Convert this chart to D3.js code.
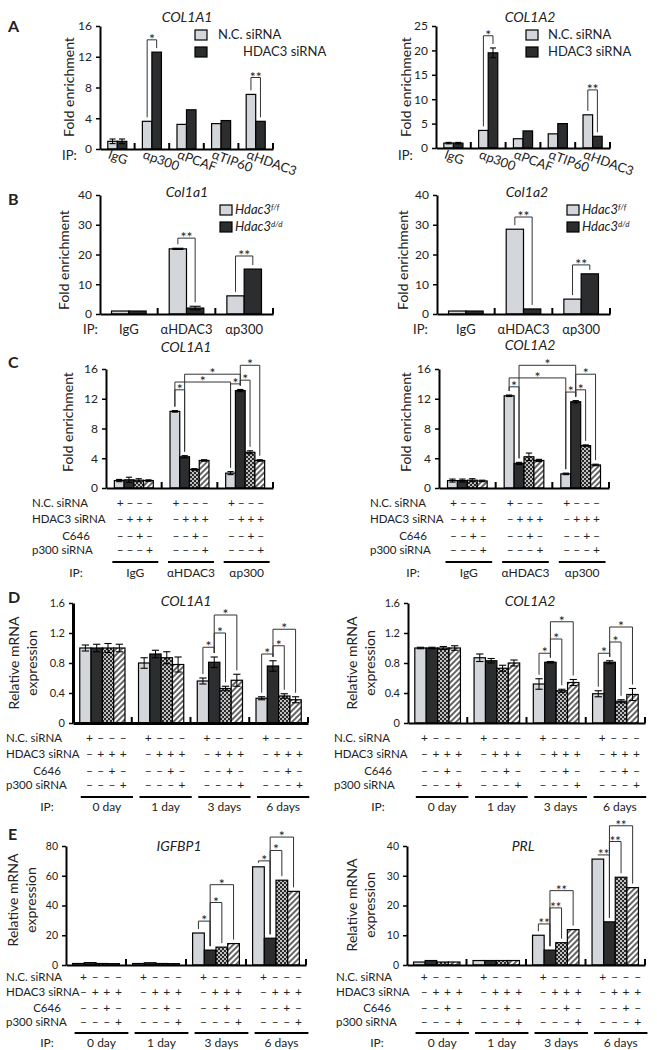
<!DOCTYPE html>
<html><head><meta charset="utf-8">
<script src="https://cdn.jsdelivr.net/npm/d3@7"></script>
<style>
body{margin:0;background:#fff}
svg{display:block}
text{font-family:Lato,"Open Sans",sans-serif;fill:#222}
</style>
</head><body>
<svg id="fig" width="657" height="1050"></svg>
<script>
// ---------------- DATA ----------------
// Panel A
const aCategories = ["IgG","αp300","αPCAF","αTIP60","αHDAC3"];
const aSeries = ["N.C. siRNA","HDAC3 siRNA"];
const aCOL1A1_NC = [1.0,3.6,3.2,3.3,7.1];
const aCOL1A1_HD = [1.0,12.6,5.1,3.7,3.6];
const aCOL1A1_NCerr = [0.3,0,0,0,0];
const aCOL1A1_HDerr = [0.3,0,0,0,0];
const aCOL1A2_NC = [1.0,3.6,1.9,2.9,6.8];
const aCOL1A2_HD = [1.0,19.5,3.5,5.0,2.4];
const aCOL1A2_NCerr = [0.15,0,0,0,0];
const aCOL1A2_HDerr = [0.15,1.0,0,0,0];
const aTicks1 = [0,4,8,12,16];
const aTicks2 = [0,5,10,15,20,25];
// Panel B
const bCategories = ["IgG","αHDAC3","αp300"];
const bSeries = ["f/f","d/d"];
const bCol1a1_FF = [1.0,21.9,6.1];
const bCol1a1_DD = [1.0,2.0,15.1];
const bCol1a1_FFerr = [0,0.2,0];
const bCol1a1_DDerr = [0,0.6,0];
const bCol1a2_FF = [1.0,28.5,5.0];
const bCol1a2_DD = [1.0,1.7,13.5];
const bTicks = [0,10,20,30,40];
// Panel C
const cCategories = ["IgG","αHDAC3","αp300"];
const treatments = ["N.C. siRNA","HDAC3 siRNA","C646","p300 siRNA"];
const treatmentSigns = [["+","–","–","–"],["–","+","+","+"],["–","–","+","–"],["–","–","–","+"]];
const cCOL1A1 = [[1.0,1.1,1.05,1.0],[10.3,4.2,2.5,3.7],[2.0,13.1,4.8,3.7]];
const cCOL1A1err = [[0.15,0.35,0.2,0.1],[0.1,0.15,0.1,0.1],[0.2,0.15,0.2,0.1]];
const cCOL1A2 = [[1.0,1.0,1.05,0.95],[12.4,3.3,4.2,3.7],[1.9,11.6,5.7,3.1]];
const cCOL1A2err = [[0.2,0.2,0.2,0.1],[0.1,0.15,0.5,0.15],[0.1,0.15,0.1,0.1]];
const cTicks = [0,4,8,12,16];
// Panel D
const dCategories = ["0 day","1 day","3 days","6 days"];
const dCOL1A1 = [[1.0,1.0,1.0,1.0],[0.8,0.92,0.87,0.78],[0.56,0.81,0.46,0.57],[0.33,0.76,0.36,0.31]];
const dCOL1A1err = [[0.04,0.05,0.06,0.05],[0.07,0.05,0.08,0.1],[0.04,0.07,0.03,0.08],[0.02,0.07,0.03,0.04]];
const dCOL1A2 = [[1.0,1.0,1.0,1.0],[0.87,0.83,0.73,0.8],[0.52,0.81,0.43,0.54],[0.39,0.81,0.29,0.38]];
const dCOL1A2err = [[0.01,0.01,0.02,0.03],[0.05,0.03,0.04,0.04],[0.07,0.01,0.02,0.04],[0.04,0.02,0.02,0.08]];
const dTicks = [0,0.4,0.8,1.2,1.6];
// Panel E
const eIGFBP1 = [[1.0,1.6,1.0,0.9],[1.0,1.5,1.0,0.9],[21.5,10,12,14.4],[66,18,57,49.5]];
const ePRL = [[1.0,1.5,1.0,1.0],[1.5,1.5,1.5,1.5],[10,5,7.5,11.9],[35.6,14.5,29.5,26]];
const eTicks1 = [0,20,40,60,80];
const eTicks2 = [0,10,20,30,40];
// Significance brackets: [group1, bar1, group2, bar2, level (data units), label]
const sigA1 = [[1,0,1,1,14.2,"*"],[4,0,4,1,9.3,"**"]];
const sigA2 = [[1,0,1,1,23,"*"],[4,0,4,1,11.9,"**"]];
const sigB1 = [[1,0,1,1,25.5,"**"],[2,0,2,1,19.5,"**"]];
const sigB2 = [[1,0,1,1,32.6,"**"],[2,0,2,1,16.5,"**"]];
const sigC1 = [[1,0,1,1,13.2,"*"],[1,0,2,0,14.25,"*"],[1,1,2,1,15.3,"*"],[2,0,2,1,14.0,"*"],[2,1,2,2,14.5,"*"],[2,1,2,3,16.5,"*"]];
const sigC2 = [[1,0,1,1,13.6,"*"],[1,0,2,0,14.8,"*"],[1,1,2,1,16.5,"*"],[2,0,2,1,12.9,"*"],[2,1,2,2,13.2,"*"],[2,1,2,3,15.3,"*"]];
const sigD1 = [[2,0,2,1,1.01,"*"],[2,1,2,2,1.2,"*"],[2,1,2,3,1.44,"*"],[3,0,3,1,0.92,"*"],[3,1,3,2,1.03,"*"],[3,1,3,3,1.25,"*"]];
const sigD2 = [[2,0,2,1,0.93,"*"],[2,1,2,2,1.12,"*"],[2,1,2,3,1.35,"*"],[3,0,3,1,0.93,"*"],[3,1,3,2,1.08,"*"],[3,1,3,3,1.28,"*"]];
const sigE1 = [[2,0,2,1,29.5,"*"],[2,1,2,2,42,"*"],[2,1,2,3,54,"*"],[3,0,3,1,70,"*"],[3,1,3,2,77,"*"],[3,1,3,3,86,"*"]];
const sigE2 = [[2,0,2,1,13.8,"**"],[2,1,2,2,19.2,"**"],[2,1,2,3,25,"**"],[3,0,3,1,37,"**"],[3,1,3,2,41.5,"**"],[3,1,3,3,46.8,"**"]];

// ---------------- DRAWING ----------------
const svg = d3.select("#fig");
const defs = svg.append("defs");
const pc = defs.append("pattern").attr("id","cross").attr("patternUnits","userSpaceOnUse").attr("width",4).attr("height",4);
pc.append("rect").attr("width",4).attr("height",4).attr("fill","#2a2a2a");
pc.append("circle").attr("cx",1).attr("cy",1).attr("r",0.95).attr("fill","#fff");
pc.append("circle").attr("cx",3).attr("cy",3).attr("r",0.95).attr("fill","#fff");
const ph = defs.append("pattern").attr("id","hatch").attr("patternUnits","userSpaceOnUse").attr("width",4).attr("height",4).attr("patternTransform","rotate(45)");
ph.append("rect").attr("width",4).attr("height",4).attr("fill","#fff");
ph.append("line").attr("x1",1).attr("y1",0).attr("x2",1).attr("y2",4).attr("stroke","#111").attr("stroke-width",1.3);
const fills = ["#d3d6da","#2b2d2f","url(#cross)","url(#hatch)"];
const FONT = "Lato";

function panel(o){
  const g = svg.append("g");
  const x = d3.scaleBand().domain(o.categories).range([o.x0,o.x1]);
  const n = o.values[0].length;
  const gw = x.bandwidth()*o.groupFrac;
  const inner = d3.scaleBand().domain(d3.range(n)).range([0,gw]);
  const off = (x.bandwidth()-gw)/2;
  const bw = inner.bandwidth();
  const y = d3.scaleLinear().domain([0,o.max]).range([o.yBot,o.yTop]);
  const bx = (gi,bi)=> x(o.categories[gi]) + off + inner(bi);
  const err = (gi,bi)=> o.errs ? (o.errs[gi][bi]||0) : 0;
  o.values.forEach((vals,gi)=>vals.forEach((v,bi)=>{
    g.append("rect").attr("x",bx(gi,bi)).attr("y",y(v)).attr("width",bw).attr("height",y(0)-y(v))
      .attr("fill",fills[bi]).attr("stroke","#000").attr("stroke-width",1.2);
  }));
  o.values.forEach((vals,gi)=>vals.forEach((v,bi)=>{
    const e = err(gi,bi); if(!e) return;
    const cx = bx(gi,bi)+bw/2, cw = bw*0.32;
    g.append("line").attr("x1",cx).attr("x2",cx).attr("y1",y(v-e)).attr("y2",y(v+e)).attr("stroke","#000").attr("stroke-width",1);
    [v-e,v+e].forEach(t=>g.append("line").attr("x1",cx-cw).attr("x2",cx+cw).attr("y1",y(t)).attr("y2",y(t)).attr("stroke","#000").attr("stroke-width",1.1));
  }));
  const ya = d3.axisLeft(y).tickValues(o.ticks).tickSize(4).tickSizeOuter(0).tickPadding(4)
      .tickFormat(o.fmt || d3.format("d"));
  const yg = g.append("g").attr("transform",`translate(${o.x0},0)`).call(ya);
  yg.select(".domain").attr("stroke","#000").attr("stroke-width",o.aw||2);
  yg.selectAll(".tick line").attr("stroke","#000").attr("stroke-width",1.5);
  yg.selectAll(".tick text").style("font-family",FONT).style("font-size",(o.tfs||12)+"px").attr("fill","#333");
  const xa = d3.axisBottom(x).tickSize(0).tickFormat("");
  const xg = g.append("g").attr("transform",`translate(0,${o.yBot})`).call(xa);
  xg.select(".domain").attr("stroke","#000").attr("stroke-width",o.aw||2);
  o.categories.forEach(c=>{
    const sx = x(c)+x.bandwidth();
    g.append("line").attr("x1",sx).attr("x2",sx).attr("y1",o.yBot).attr("y2",o.yBot-6).attr("stroke","#000").attr("stroke-width",2);
  });
  (o.sig||[]).forEach(s=>{
    const [g1,b1,g2,b2,lev,lab] = s;
    const xa1 = bx(g1,b1)+bw/2, xb1 = bx(g2,b2)+bw/2;
    const yl = y(lev);
    const ya1 = Math.max(yl, y(o.values[g1][b1]+err(g1,b1))-4);
    const yb1 = Math.max(yl, y(o.values[g2][b2]+err(g2,b2))-4);
    g.append("path").attr("d",`M${xa1},${ya1}V${yl}H${xb1}V${yb1}`).attr("fill","none").attr("stroke","#333").attr("stroke-width",1);
    g.append("text").attr("x",(xa1+xb1)/2).attr("y",yl+4).attr("text-anchor","middle").style("font-size",(o.sfs||14)+"px").text(lab);
  });
  g.append("text").attr("x",o.titleX).attr("y",o.titleY).attr("text-anchor","middle").style("font-style","italic").style("font-size","14px").text(o.title);
  const yl = g.append("text").attr("transform",`translate(${o.ylx},${o.yly}) rotate(-90)`).attr("text-anchor","middle").style("font-size","14px");
  if(o.ylabel.length===1){ yl.attr("dominant-baseline","central").text(o.ylabel[0]); }
  else {
    o.ylabel.forEach((t,i)=> yl.append("tspan").attr("x",0).attr("dy", i===0? "-0.2em":"1.3em").text(t));
  }
  return {g,x,bx,bw,off,gw,y};
}

function rotatedLabels(p,o){
  o.categories.forEach(c=>{
    const cx = p.x(c)+p.x.bandwidth()/2-10;
    p.g.append("text").attr("transform",`translate(${cx},${o.labY}) rotate(20)`).style("font-size","13px").text(c);
  });
  p.g.append("text").attr("x",o.ipX).attr("y",o.labY+2).style("font-size","13px").text("IP:");
}
function flatLabels(p,o){
  o.categories.forEach(c=>{
    p.g.append("text").attr("x",p.x(c)+p.x.bandwidth()/2).attr("y",o.labY).attr("text-anchor","middle").style("font-size","13px").text(c);
  });
  p.g.append("text").attr("x",o.ipX).attr("y",o.labY).style("font-size","13px").text("IP:");
}
function legend(p,items,lx,rows,tx,italic){
  items.forEach((it,i)=>{
    p.g.append("rect").attr("x",lx).attr("y",rows[i]).attr("width",12).attr("height",10).attr("fill",fills[i]).attr("stroke","#000").attr("stroke-width",1.2);
    const t = p.g.append("text").attr("x",tx[i]).attr("y",rows[i]+9).style("font-size","13px");
    if(italic){
      t.append("tspan").style("font-style","italic").text("Hdac3");
      t.append("tspan").style("font-style","italic").style("font-size","8px").attr("dy","-4").text(it);
    } else t.text(it);
  });
}
function table(p,o){
  const n = treatmentSigns[0].length;
  treatments.forEach((t,r)=>{
    const isC = t==="C646";
    p.g.append("text").attr("x", isC ? o.lx+o.cOff : o.lx).attr("y",o.rows[r]).attr("text-anchor",isC?"middle":"start").style("font-size","11.5px").text(t);
    o.categories.forEach((c,gi)=>treatmentSigns[r].forEach((s,bi)=>{
      p.g.append("text").attr("x",p.bx(gi,bi)+p.bw/2+o.shift).attr("y",o.rows[r]).attr("text-anchor","middle").style("font-size","12px").text(s);
    }));
  });
  o.categories.forEach((c,gi)=>{
    const xs = p.bx(gi,0)+o.shift-3, xe = p.bx(gi,n-1)+p.bw+o.shift+4;
    p.g.append("line").attr("x1",xs).attr("x2",xe).attr("y1",o.lineY).attr("y2",o.lineY).attr("stroke","#000").attr("stroke-width",2);
    p.g.append("text").attr("x",(xs+xe)/2).attr("y",o.labY).attr("text-anchor","middle").style("font-size","12px").text(c);
  });
  p.g.append("text").attr("x",o.lx+o.cOff).attr("y",o.labY).attr("text-anchor","middle").style("font-size","12px").text("IP:");
}
function letter(t,x,y){ svg.append("text").attr("x",x).attr("y",y).style("font-weight","bold").style("font-size","16px").text(t); }

// Panel A
const pA1 = panel({categories:aCategories,x0:100,x1:273,yTop:26,yBot:149,max:16,ticks:aTicks1,groupFrac:0.55,
  values:d3.zip(aCOL1A1_NC,aCOL1A1_HD),errs:d3.zip(aCOL1A1_NCerr,aCOL1A1_HDerr),sig:sigA1,
  title:"COL1A1",titleX:187,titleY:22,ylabel:["Fold enrichment"],ylx:68,yly:87});
rotatedLabels(pA1,{categories:aCategories,labY:158,ipX:62});
legend(pA1,aSeries,195,[30,47],[218,243],false);
const pA2 = panel({categories:aCategories,x0:436,x1:610,yTop:26,yBot:148,max:25,ticks:aTicks2,groupFrac:0.55,
  values:d3.zip(aCOL1A2_NC,aCOL1A2_HD),errs:d3.zip(aCOL1A2_NCerr,aCOL1A2_HDerr),sig:sigA2,
  title:"COL1A2",titleX:530,titleY:22,ylabel:["Fold enrichment"],ylx:405,yly:87});
rotatedLabels(pA2,{categories:aCategories,labY:158,ipX:398});
legend(pA2,aSeries,526,[30,47],[548,548],false);

// Panel B
const pB1 = panel({categories:bCategories,x0:100,x1:273,yTop:195,yBot:314,max:40,ticks:bTicks,groupFrac:0.6,
  values:d3.zip(bCol1a1_FF,bCol1a1_DD),errs:d3.zip(bCol1a1_FFerr,bCol1a1_DDerr),sig:sigB1,
  title:"Col1a1",titleX:187,titleY:197,ylabel:["Fold enrichment"],ylx:63,yly:260});
flatLabels(pB1,{categories:bCategories,labY:334,ipX:83});
legend(pB1,bSeries,220,[205,222],[235,235],true);
const pB2 = panel({categories:bCategories,x0:437,x1:610,yTop:195,yBot:314,max:40,ticks:bTicks,groupFrac:0.6,
  values:d3.zip(bCol1a2_FF,bCol1a2_DD),sig:sigB2,
  title:"Col1a2",titleX:527,titleY:197,ylabel:["Fold enrichment"],ylx:402,yly:260});
flatLabels(pB2,{categories:bCategories,labY:334,ipX:413});
legend(pB2,bSeries,567,[205,222],[582,582],true);

// Panel C
const pC1 = panel({categories:cCategories,x0:106,x1:273,yTop:369,yBot:488,max:16,ticks:cTicks,groupFrac:0.7,
  values:cCOL1A1,errs:cCOL1A1err,sig:sigC1,title:"COL1A1",titleX:186,titleY:352,ylabel:["Fold enrichment"],ylx:67,yly:422});
table(pC1,{categories:cCategories,lx:32,cOff:44,rows:[507,523,540,554],lineY:562,labY:577,shift:1});
const pC2 = panel({categories:cCategories,x0:439,x1:609,yTop:369,yBot:488,max:16,ticks:cTicks,groupFrac:0.7,
  values:cCOL1A2,errs:cCOL1A2err,sig:sigC2,title:"COL1A2",titleX:530,titleY:350,ylabel:["Fold enrichment"],ylx:405,yly:422});
table(pC2,{categories:cCategories,lx:370,cOff:43,rows:[507,523,540,554],lineY:562,labY:577,shift:1});

// Panel D
const fmtD = d=> d===0 ? "0" : d3.format(".1f")(d);
const pD1 = panel({categories:dCategories,x0:73,x1:308,yTop:603,yBot:723,max:1.6,ticks:dTicks,fmt:fmtD,tfs:11,aw:3,groupFrac:0.77,
  values:dCOL1A1,errs:dCOL1A1err,sig:sigD1,title:"COL1A1",titleX:186,titleY:606,ylabel:["Relative mRNA","expression"],ylx:22,yly:663});
table(pD1,{categories:dCategories,lx:6,cOff:41,rows:[742,758,775,789],lineY:797,labY:811,shift:4});
const pD2 = panel({categories:dCategories,x0:408,x1:645,yTop:603,yBot:723,max:1.6,ticks:dTicks,fmt:fmtD,tfs:11,groupFrac:0.77,
  values:dCOL1A2,errs:dCOL1A2err,sig:sigD2,title:"COL1A2",titleX:530,titleY:606,ylabel:["Relative mRNA","expression"],ylx:360,yly:663});
table(pD2,{categories:dCategories,lx:334,cOff:44,rows:[742,758,775,789],lineY:797,labY:811,shift:4});

// Panel E
const pE1 = panel({categories:dCategories,x0:66,x1:306,yTop:846,yBot:965,max:80,ticks:eTicks1,tfs:10.5,groupFrac:0.78,
  values:eIGFBP1,sig:sigE1,title:"IGFBP1",titleX:179,titleY:851,ylabel:["Relative mRNA","expression"],ylx:21,yly:900});
table(pE1,{categories:dCategories,lx:6,cOff:41,rows:[981,996,1012,1026],lineY:1033,labY:1047,shift:5});
const pE2 = panel({categories:dCategories,x0:407,x1:645,yTop:846,yBot:965,max:40,ticks:eTicks2,tfs:10.5,groupFrac:0.78,sfs:13,
  values:ePRL,sig:sigE2,title:"PRL",titleX:523,titleY:851,ylabel:["Relative mRNA","expression"],ylx:360,yly:905});
table(pE2,{categories:dCategories,lx:336,cOff:41,rows:[981,996,1012,1026],lineY:1033,labY:1047,shift:5});

letter("A",8,32); letter("B",8,205); letter("C",8,368); letter("D",8,603); letter("E",8,840);
</script>
</body></html>
